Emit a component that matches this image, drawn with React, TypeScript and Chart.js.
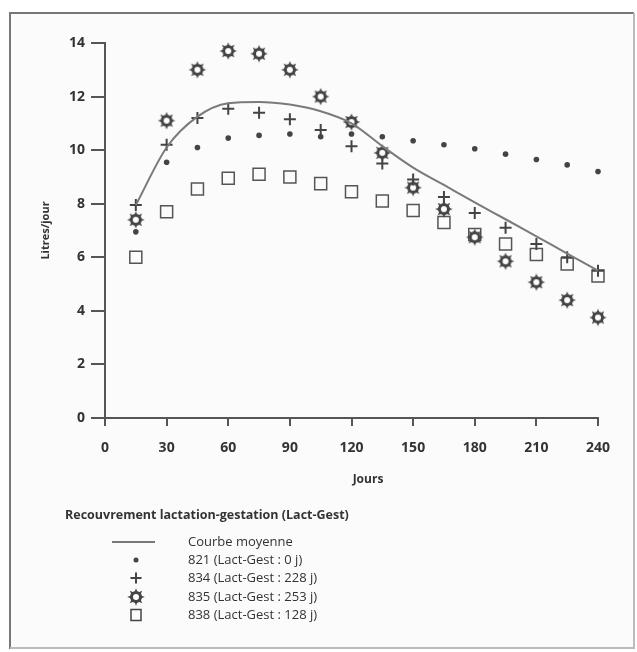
import React, { useEffect, useRef } from "react";
import { Chart, registerables } from "chart.js";

Chart.register(...registerables);

const days = [15, 30, 45, 60, 75, 90, 105, 120, 135, 150, 165, 180, 195, 210, 225, 240];
const meanCurve = [7.95, 10.1, 11.25, 11.75, 11.8, 11.7, 11.45, 11.0, 10.15, 9.35, 8.7, 8.05, 7.42, 6.78, 6.14, 5.5];
const cow821 = [6.95, 9.55, 10.1, 10.45, 10.55, 10.6, 10.5, 10.6, 10.5, 10.35, 10.2, 10.05, 9.85, 9.65, 9.45, 9.2];
const cow834 = [7.95, 10.2, 11.2, 11.55, 11.4, 11.15, 10.75, 10.15, 9.5, 8.9, 8.25, 7.65, 7.1, 6.5, 6.0, 5.5];
const cow835 = [7.4, 11.1, 13.0, 13.7, 13.6, 13.0, 12.0, 11.05, 9.9, 8.6, 7.8, 6.75, 5.85, 5.07, 4.4, 3.75];
const cow838 = [6.0, 7.7, 8.55, 8.95, 9.1, 9.0, 8.75, 8.45, 8.1, 7.75, 7.3, 6.85, 6.5, 6.1, 5.75, 5.3];

const xTicks = [0, 30, 60, 90, 120, 150, 180, 210, 240];
const yTicks = [0, 2, 4, 6, 8, 10, 12, 14];

const seriesLabels = [
  "Courbe moyenne",
  "821 (Lact-Gest : 0 j)",
  "834 (Lact-Gest : 228 j)",
  "835 (Lact-Gest : 253 j)",
  "838 (Lact-Gest : 128 j)",
];
const legendTitle = "Recouvrement lactation-gestation (Lact-Gest)";
const xTitle = "Jours";
const yTitle = "Litres/jour";

const INK = "#444";
const FONT = "'Open Sans', 'DejaVu Sans', sans-serif";

function makeSun(): HTMLCanvasElement {
  const c = document.createElement("canvas");
  const s = 20;
  c.width = s;
  c.height = s;
  const ctx = c.getContext("2d")!;
  const cx = s / 2;
  const cy = s / 2;
  ctx.fillStyle = INK;
  const n = 8;
  for (let i = 0; i < n; i++) {
    const a = (i / n) * Math.PI * 2 - Math.PI / 2;
    ctx.beginPath();
    ctx.moveTo(cx + Math.cos(a - 0.32) * 5, cy + Math.sin(a - 0.32) * 5);
    ctx.lineTo(cx + Math.cos(a) * 8.8, cy + Math.sin(a) * 8.8);
    ctx.lineTo(cx + Math.cos(a + 0.32) * 5, cy + Math.sin(a + 0.32) * 5);
    ctx.closePath();
    ctx.fill();
  }
  ctx.beginPath();
  ctx.arc(cx, cy, 6, 0, Math.PI * 2);
  ctx.fill();
  ctx.fillStyle = "#fff";
  ctx.beginPath();
  ctx.arc(cx, cy, 3, 0, Math.PI * 2);
  ctx.fill();
  return c;
}

export default function App() {
  const ref = useRef<HTMLCanvasElement | null>(null);

  useEffect(() => {
    if (!ref.current) return;
    const sun = makeSun();

    const frame = {
      id: "frame",
      beforeDraw(chart: any) {
        const ctx = chart.ctx;
        ctx.save();
        ctx.fillStyle = "#fff";
        ctx.fillRect(0, 0, chart.width, chart.height);
        ctx.fillStyle = "#fbfbfb";
        ctx.fillRect(10, 13, 623, 635);
        ctx.strokeStyle = "#777";
        ctx.lineWidth = 2;
        ctx.beginPath();
        ctx.moveTo(10, 649);
        ctx.lineTo(10, 13);
        ctx.lineTo(634, 13);
        ctx.stroke();
        ctx.strokeStyle = "#bbb";
        ctx.beginPath();
        ctx.moveTo(634, 13);
        ctx.lineTo(634, 649);
        ctx.moveTo(10, 648);
        ctx.lineTo(634, 648);
        ctx.stroke();
        ctx.restore();
      },
      afterDraw(chart: any) {
        const ctx = chart.ctx;
        const area = chart.chartArea;
        ctx.save();
        ctx.fillStyle = "#333";
        ctx.font = `bold 11px ${FONT}`;
        ctx.textAlign = "center";
        ctx.textBaseline = "middle";
        ctx.save();
        ctx.translate(46, (area.top + area.bottom) / 2);
        ctx.rotate(-Math.PI / 2);
        ctx.fillText(yTitle, 0, 0);
        ctx.restore();
        ctx.font = `bold 12px ${FONT}`;
        ctx.fillText(xTitle, 368, 480);
        ctx.font = `bold 12.5px ${FONT}`;
        ctx.textAlign = "left";
        ctx.fillText(legendTitle, 65, 515);
        ctx.font = `13px ${FONT}`;
        const sx = 136;
        const tx = 188;
        const ys = [542, 560, 578, 597, 615];
        seriesLabels.forEach((lab, i) => {
          const y = ys[i];
          ctx.fillStyle = "#333";
          ctx.fillText(lab, tx, y);
          ctx.strokeStyle = INK;
          ctx.fillStyle = INK;
          if (i === 0) {
            ctx.strokeStyle = "#777";
            ctx.lineWidth = 2;
            ctx.beginPath();
            ctx.moveTo(112, y);
            ctx.lineTo(155, y);
            ctx.stroke();
          } else if (i === 1) {
            ctx.beginPath();
            ctx.arc(sx, y, 2.5, 0, Math.PI * 2);
            ctx.fill();
          } else if (i === 2) {
            ctx.lineWidth = 2;
            ctx.beginPath();
            ctx.moveTo(sx - 5.5, y);
            ctx.lineTo(sx + 5.5, y);
            ctx.moveTo(sx, y - 5.5);
            ctx.lineTo(sx, y + 5.5);
            ctx.stroke();
          } else if (i === 3) {
            ctx.drawImage(sun, sx - 10, y - 10);
          } else {
            ctx.lineWidth = 1.5;
            ctx.strokeRect(sx - 5, y - 5.5, 10, 11);
          }
        });
        ctx.restore();
      },
    };

    const pts = (vals: number[]) => days.map((d, i) => ({ x: d, y: vals[i] }));

    const chart = new Chart(ref.current, {
      type: "scatter",
      data: {
        datasets: [
          {
            label: seriesLabels[0],
            data: pts(meanCurve),
            showLine: true,
            borderColor: "#7a7a7a",
            borderWidth: 2,
            pointRadius: 0,
            cubicInterpolationMode: "monotone",
          },
          {
            label: seriesLabels[1],
            data: pts(cow821),
            pointStyle: "circle",
            pointRadius: 2.8,
            backgroundColor: INK,
            borderColor: INK,
            borderWidth: 0,
          },
          {
            label: seriesLabels[2],
            data: pts(cow834),
            pointStyle: "cross",
            pointRadius: 6,
            borderColor: INK,
            borderWidth: 2,
          },
          {
            label: seriesLabels[3],
            data: pts(cow835),
            pointStyle: sun as any,
            pointRadius: 10,
          },
          {
            label: seriesLabels[4],
            data: pts(cow838),
            pointStyle: "rect",
            pointRadius: 8.5,
            backgroundColor: "rgba(0,0,0,0)",
            borderColor: "#555",
            borderWidth: 1.5,
          },
        ],
      },
      options: {
        responsive: false,
        animation: false,
        clip: false as any,
        layout: { padding: { left: 45, right: 39, top: 43, bottom: 174 } },
        plugins: {
          legend: { display: false },
          tooltip: { enabled: false },
        },
        scales: {
          x: {
            type: "linear",
            min: 0,
            max: 240,
            afterFit: (s: any) => {
              s.height = 60;
            },
            afterBuildTicks: (s: any) => {
              s.ticks = xTicks.map((v) => ({ value: v }));
            },
            ticks: {
              color: "#333",
              font: { family: FONT, size: 14, weight: "bold" },
              padding: 14,
              maxRotation: 0,
            },
            grid: {
              drawOnChartArea: false,
              drawTicks: true,
              tickLength: 8,
              color: "#555",
              lineWidth: 2,
            },
            border: { display: true, color: "#555", width: 2 },
          },
          y: {
            type: "linear",
            min: 0,
            max: 14,
            afterFit: (s: any) => {
              s.width = 60;
            },
            afterBuildTicks: (s: any) => {
              s.ticks = yTicks.map((v) => ({ value: v }));
            },
            ticks: {
              color: "#333",
              font: { family: FONT, size: 14, weight: "bold" },
              padding: 6,
            },
            grid: {
              drawOnChartArea: false,
              drawTicks: true,
              tickLength: 14,
              color: "#555",
              lineWidth: 2,
            },
            border: { display: true, color: "#555", width: 2 },
          },
        },
      },
      plugins: [frame],
    });

    return () => chart.destroy();
  }, []);

  return (
    <div style={{ position: "absolute", left: 0, top: 0, width: 637, height: 652 }}>
      <canvas ref={ref} width={637} height={652} style={{ display: "block", width: 637, height: 652 }} />
    </div>
  );
}
